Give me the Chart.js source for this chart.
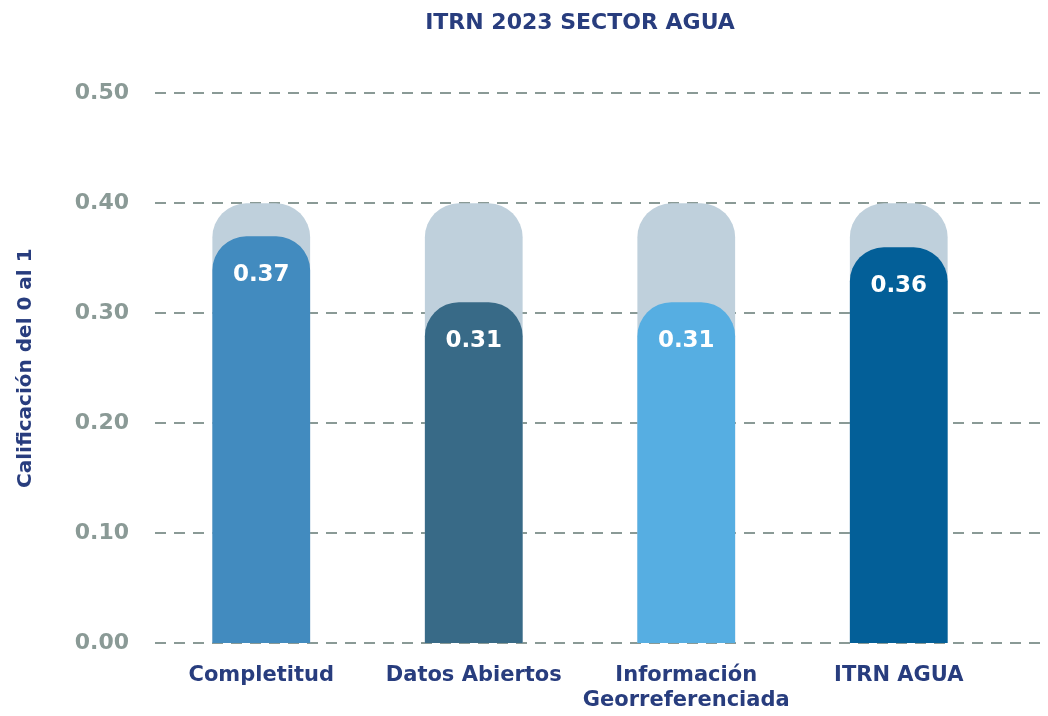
<!DOCTYPE html>
<html>
<head>
<meta charset="utf-8">
<script src="https://cdn.jsdelivr.net/npm/chart.js@4.4.0/dist/chart.umd.min.js"></script>
<style>
  html, body { margin: 0; padding: 0; background: #ffffff; }
  #wrap { width: 1048px; height: 716px; }
</style>
</head>
<body>
<div id="wrap"><canvas id="itrnChart" width="1048" height="716"></canvas></div>
<script>
const categories = ["Completitud", "Datos Abiertos", ["Información", "Georreferenciada"], "ITRN AGUA"];
const scores = [0.37, 0.31, 0.31, 0.36];
const maxScore = [0.40, 0.40, 0.40, 0.40];
const barColors = ["#428bbf", "#386a87", "#56aee2", "#035f98"];

const navy = "#283d7e";
const gray = "#8a9a96";

// dashed grid across the full width, behind the bars
const fullGrid = {
    id: "fullGrid",
    beforeDatasetsDraw(chart) {
        const c = chart.ctx;
        const y = chart.scales.y;
        c.save();
        c.strokeStyle = gray;
        c.lineWidth = 2;
        c.setLineDash([11, 8]);
        y.ticks.forEach(t => {
            const py = Math.round(y.getPixelForValue(t.value));
            c.beginPath();
            c.moveTo(chart.chartArea.left, py);
            c.lineTo(chart.width - 3, py);
            c.stroke();
        });
        c.restore();
    }
};

// white value label just inside the top of each bar
const valueLabels = {
    id: "valueLabels",
    afterDatasetsDraw(chart) {
        const c = chart.ctx;
        const meta = chart.getDatasetMeta(1);
        c.save();
        c.fillStyle = "#ffffff";
        c.font = "bold 23px 'DejaVu Sans'";
        c.textAlign = "center";
        c.textBaseline = "middle";
        meta.data.forEach((bar, i) => {
            c.fillText(scores[i].toFixed(2), bar.x, bar.y + 39);
        });
        c.restore();
    }
};

new Chart(document.getElementById("itrnChart"), {
    type: "bar",
    data: {
        labels: categories,
        datasets: [
            {
                label: "Máximo",
                data: maxScore,
                backgroundColor: "#bfd0dc",
                borderRadius: { topLeft: 34, topRight: 34 },
                borderSkipped: "bottom",
                grouped: false,
                order: 2
            },
            {
                label: "Calificación",
                data: scores,
                backgroundColor: barColors,
                borderRadius: { topLeft: 34, topRight: 34 },
                borderSkipped: "bottom",
                grouped: false,
                order: 1
            }
        ]
    },
    options: {
        responsive: false,
        animation: false,
        layout: { padding: { left: 14, right: 43, top: 8, bottom: 0 } },
        plugins: {
            legend: { display: false },
            tooltip: { enabled: false },
            title: {
                display: true,
                text: "ITRN 2023 SECTOR AGUA",
                color: navy,
                fullSize: false,
                font: { family: "DejaVu Sans", size: 22, weight: "bold" },
                padding: { top: 2, bottom: 57 }
            }
        },
        datasets: {
            bar: { categoryPercentage: 1, barPercentage: 0.46 }
        },
        scales: {
            x: {
                afterFit: s => { s.height = 73; },
                grid: { display: false },
                border: { display: false },
                ticks: {
                    color: navy,
                    font: { family: "DejaVu Sans", size: 21, weight: "bold" },
                    padding: 12,
                    maxRotation: 0,
                    autoSkip: false
                }
            },
            y: {
                min: 0,
                max: 0.5,
                afterFit: s => { s.width = 141; },
                grid: { display: false },
                border: { display: false },
                ticks: {
                    stepSize: 0.1,
                    color: gray,
                    padding: 18,
                    font: { family: "DejaVu Sans", size: 22, weight: "bold" },
                    callback: v => v.toFixed(2)
                },
                title: {
                    display: true,
                    text: "Calificación del 0 al 1",
                    color: navy,
                    font: { family: "DejaVu Sans", size: 20, weight: "bold" },
                    padding: { top: 0, bottom: 0 }
                }
            }
        }
    },
    plugins: [fullGrid, valueLabels]
});
</script>
</body>
</html>
